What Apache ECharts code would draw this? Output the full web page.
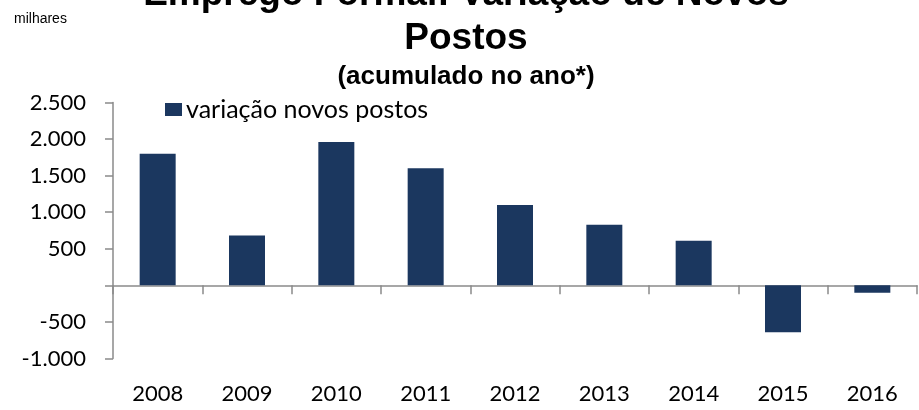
<!DOCTYPE html>
<html>
<head>
<meta charset="utf-8">
<script src="https://cdn.jsdelivr.net/npm/echarts@6/dist/echarts.min.js"></script>
<style>
  html, body { margin: 0; padding: 0; background: #fff; }
  #chart { width: 919px; height: 410px; }
</style>
</head>
<body>
<div id="chart"></div>
<script>
const years = ['2008', '2009', '2010', '2011', '2012', '2013', '2014', '2015', '2016']
// milhares
const novosPostos = [1800, 680, 1960, 1600, 1100, 830, 610, -640, -100]
const seriesName = 'variação novos postos'

const chart = echarts.init(document.getElementById('chart'))

const axisGrey = '#8a8a8a'
const labelFont = 'Lato, "Open Sans", sans-serif'

const option = {
  animation: false,
  backgroundColor: '#fff',
  title: [
    {
      text: 'Emprego Formal: Variação de Novos',
      left: 466, top: -24, padding: 0, textAlign: 'center',
      textStyle: { fontFamily: '"Liberation Sans", Arial, sans-serif', fontSize: 37, fontWeight: 'bold', color: '#000', lineHeight: 37 }
    },
    {
      text: 'Postos',
      left: 466, top: 20, padding: 0, textAlign: 'center',
      textStyle: { fontFamily: '"Liberation Sans", Arial, sans-serif', fontSize: 37, fontWeight: 'bold', color: '#000', lineHeight: 37 }
    },
    {
      text: '(acumulado no ano*)',
      left: 466, top: 64, padding: 0, textAlign: 'center',
      textStyle: { fontFamily: '"Liberation Sans", Arial, sans-serif', fontSize: 26, fontWeight: 'bold', color: '#000', lineHeight: 26 }
    },
    {
      text: 'milhares',
      left: 14, top: 12, padding: 0,
      textStyle: { fontFamily: '"Liberation Sans", Arial, sans-serif', fontSize: 14, fontWeight: 'normal', color: '#000' }
    }
  ],
  legend: {
    left: 165, top: 97, padding: 0,
    itemWidth: 17, itemHeight: 13, itemGap: 10,
    icon: 'rect',
    data: [seriesName],
    textStyle: { fontFamily: labelFont, fontSize: 25, color: '#000', padding: [0, 0, 0, -1] }
  },
  grid: {
    left: 113, right: 2, top: 102.5, bottom: 51.5,
    containLabel: false,
    outerBoundsMode: 'none'
  },
  xAxis: [
    {
      // zero line with ticks between years
      type: 'category',
      data: years,
      axisLine: { onZero: true, lineStyle: { color: axisGrey, width: 1.5 } },
      axisTick: { show: true, length: 9, lineStyle: { color: axisGrey, width: 1.5 } },
      axisLabel: { show: false },
      splitLine: { show: false }
    },
    {
      // year labels at the bottom
      type: 'category',
      data: years,
      position: 'bottom',
      axisLine: { show: false, onZero: false },
      axisTick: { show: false },
      axisLabel: { margin: 24, fontFamily: labelFont, fontSize: 22, color: '#000' },
      splitLine: { show: false }
    }
  ],
  yAxis: {
    type: 'value',
    min: -1000,
    max: 2500,
    interval: 500,
    axisLine: { show: true, lineStyle: { color: axisGrey, width: 1.5 } },
    axisTick: { show: true, length: 8, lineStyle: { color: axisGrey, width: 1.5 } },
    axisLabel: {
      margin: 27,
      fontFamily: labelFont,
      fontSize: 22,
      color: '#000',
      formatter: v => v === 0 ? '' : v.toLocaleString('pt-BR')
    },
    splitLine: { show: false }
  },
  series: [{
    name: seriesName,
    type: 'bar',
    xAxisIndex: 0,
    data: novosPostos,
    barWidth: 36,
    itemStyle: { color: '#1b375f' }
  }]
}

chart.setOption(option)
window.addEventListener('resize', () => chart.resize())
</script>
</body>
</html>
